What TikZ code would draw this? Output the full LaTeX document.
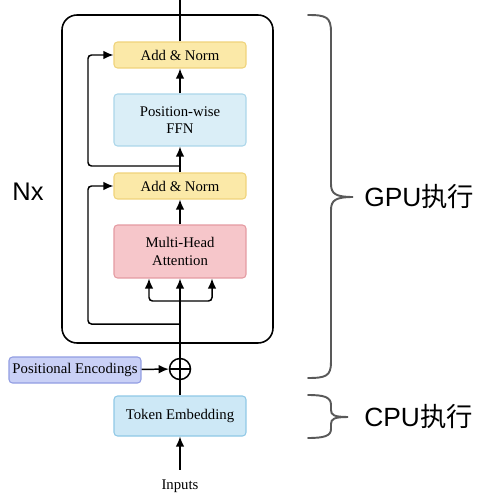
\documentclass[tikz,border=0pt]{standalone}
\usepackage{fontspec}
\setmainfont{Liberation Serif}
\newfontfamily\sidefont{Liberation Sans}
\newfontfamily\cjkfont{Noto Sans CJK SC}
\usepackage{tikz}
\usetikzlibrary{arrows.meta}

\definecolor{normfill}{HTML}{FBE9A8}
\definecolor{normdraw}{HTML}{EFD37A}
\definecolor{ffnfill}{HTML}{DAEEF7}
\definecolor{ffndraw}{HTML}{ABD6EA}
\definecolor{attfill}{HTML}{F6C6CA}
\definecolor{attdraw}{HTML}{E49AA1}
\definecolor{posfill}{HTML}{C9D0F6}
\definecolor{posdraw}{HTML}{919DE2}
\definecolor{tokfill}{HTML}{CDE8F6}
\definecolor{tokdraw}{HTML}{8FC8E6}

\begin{document}
\begin{tikzpicture}[x=0.02cm, y=-0.02cm,
    block/.style={rectangle, rounded corners=2pt, line width=0.6pt, minimum width=2.64cm,
        align=center, font=\fontsize{8.4}{9.8}\selectfont, inner sep=1pt},
    norm_node/.style={block, fill=normfill, draw=normdraw, minimum height=0.52cm},
    ffn_node/.style={block, fill=ffnfill, draw=ffndraw, minimum height=1.04cm},
    att_node/.style={block, fill=attfill, draw=attdraw, minimum height=1.06cm},
    pos_node/.style={block, fill=posfill, draw=posdraw, minimum height=0.52cm},
    tok_node/.style={block, fill=tokfill, draw=tokdraw, minimum height=0.8cm},
    arr/.style={line width=0.85pt, -{Latex[length=5.8pt,width=5pt]}},
    wire/.style={line width=0.85pt},
    brace/.style={line width=1.1pt, draw=black!65, line cap=round},
    side/.style={font=\fontsize{15}{18}\selectfont\sidefont, anchor=west, inner sep=0pt}]
    \useasboundingbox (0,0) rectangle (490,500);

    \draw[line width=0.9pt, rounded corners=0.3cm] (62,15) rectangle (273,343);

    \node[norm_node] (an2) at (180,55) {Add \& Norm};
    \node[ffn_node] (ffn) at (180,120) {Position-wise\\FFN};
    \node[norm_node] (an1) at (180,186) {Add \& Norm};
    \node[att_node] (mha) at (180,251.5) {Multi-Head\\Attention};
    \node[circle, draw, line width=0.85pt, minimum size=0.42cm, inner sep=0pt] (sum) at (180,369) {};
    \node[pos_node] (pos) at (75,370) {Positional Encodings};
    \node[tok_node] (tok) at (180,416) {Token Embedding};
    \node[font=\fontsize{8.4}{9.8}\selectfont] (inp) at (180,486) {Inputs};

    \coordinate (out) at (180,0);
    \coordinate (res1) at (180,166);
    \coordinate (res2) at (180,324);
    \coordinate (split) at (180,301);
    \coordinate (mha_l) at (149,278.5);
    \coordinate (mha_r) at (212,278.5);

    \draw[line width=0.6pt] (an2.north) -- (out);
    \draw[arr] (ffn) -- (an2);
    \draw[arr] (an1) -- (ffn);
    \draw[arr, rounded corners=2pt] (res1) -- ++(-92,0) |- (an2.west);
    \draw[arr] (mha) -- (an1);
    \draw[arr] (sum.north) -- (mha.south);
    \draw[arr, rounded corners=2pt] (split) -| (mha_l);
    \draw[arr, rounded corners=2pt] (split) -| (mha_r);
    \draw[arr, rounded corners=2pt] (res2) -- ++(-92,0) |- (an1.west);
    \draw[wire] (sum.west) -- (sum.east) (sum.north) -- (tok.north);
    \draw[arr] (pos) -- (sum);
    \draw[arr, shorten <=2pt] (inp.north) -- (tok.south);

    \node[font=\fontsize{14.5}{17}\selectfont\sidefont] (nx) at (28,192) {Nx};

    \draw[brace] (308,15) .. controls (326,15) and (331,17) .. (331,32) -- (331,184)
        .. controls (331,194) and (336,197) .. (353,197)
        .. controls (336,197) and (331,200) .. (331,210) -- (331,362)
        .. controls (331,376) and (326,378) .. (308,378);
    \draw[brace] (308,395) .. controls (324,395) and (331,397) .. (331,405) -- (331,410)
        .. controls (331,415) and (334,417) .. (348,417)
        .. controls (334,417) and (331,419) .. (331,424) -- (331,429)
        .. controls (331,436) and (324,438) .. (308,438);

    \node[side] (gpu) at (364,197) {GPU{\cjkfont 执行}};
    \node[side] (cpu) at (364,417) {CPU{\cjkfont 执行}};
\end{tikzpicture}
\end{document}
